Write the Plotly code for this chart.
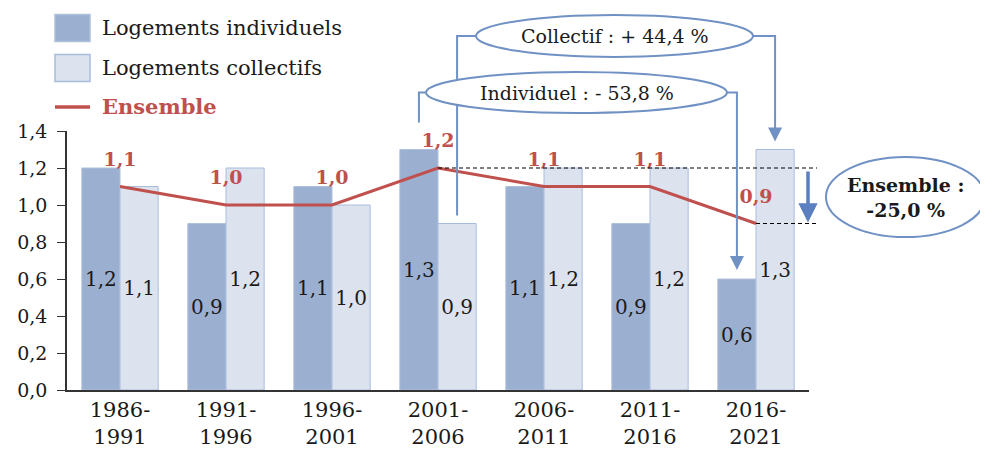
import plotly.graph_objects as go

# Données
periodes = ["1986-<br>1991", "1991-<br>1996", "1996-<br>2001", "2001-<br>2006",
            "2006-<br>2011", "2011-<br>2016", "2016-<br>2021"]
individuels = [1.2, 0.9, 1.1, 1.3, 1.1, 0.9, 0.6]
collectifs = [1.1, 1.2, 1.0, 0.9, 1.2, 1.2, 1.3]
ensemble = [1.1, 1.0, 1.0, 1.2, 1.1, 1.1, 0.9]

noms = ["Logements individuels", "Logements collectifs", "Ensemble"]
txt_collectif = "Collectif : + 44,4 %"
txt_individuel = "Individuel : - 53,8 %"
txt_ensemble = "<b>Ensemble :<br>-25,0 %</b>"

FONT = "Palatino Linotype, Book Antiqua, Palatino, DejaVu Serif, serif"
C_IND = "#9BAFD0"
C_COL = "#DCE3EE"
C_RED = "#C0504D"
C_BLUE = "#7091C4"
C_ARROW = "#5B7FBF"
C_TXT = "#1a1a1a"

# la page ajoute une marge de 8 px : on la compense
OFF = 8
W, H = 988, 450
PL, PT, PW, PH = 67, 131, 742, 259   # zone de tracé voulue à l'écran
ML, MT = PL - OFF, PT - OFF
MR, MB = W - ML - PW, H - MT - PH
YMAX = 1.4
N = len(periodes)
BAR_OFF = 0.18  # centre de chaque barre dans le groupe (bargap 0.28)


def xp(i, off=0.0):
    """position de catégorie -> coordonnée papier"""
    return (i + 0.5 + off) / N


def yp(v):
    return v / YMAX


def sx(p):
    """abscisse écran (px) -> papier"""
    return (p - PL) / PW


def sy(p):
    """ordonnée écran (px) -> papier"""
    return (PT + PH - p) / PH


def dy(p):
    return p / PH


fig = go.Figure()

fig.add_trace(go.Bar(
    x=periodes, y=individuels, name=noms[0],
    marker=dict(color=C_IND, line=dict(color="#AFC0DA", width=1)),
    texttemplate="%{y:.1f}", textposition="inside", insidetextanchor="middle",
    textangle=0, constraintext="none",
    textfont=dict(size=20, color=C_TXT, family=FONT),
))
fig.add_trace(go.Bar(
    x=periodes, y=collectifs, name=noms[1],
    marker=dict(color=C_COL, line=dict(color="#A9BCDC", width=1)),
    texttemplate="%{y:.1f}", textposition="inside", insidetextanchor="middle",
    textangle=0, constraintext="none",
    textfont=dict(size=20, color=C_TXT, family=FONT),
))
fig.add_trace(go.Scatter(
    x=periodes, y=ensemble, name=noms[2],
    mode="lines+markers+text",
    line=dict(color=C_RED, width=3),
    marker=dict(size=24, color="rgba(0,0,0,0)"),
    texttemplate="<b>%{y:.1f}</b>", textposition="top center",
    textfont=dict(size=19, color=C_RED, family=FONT),
    cliponaxis=False,
))

shapes = []
annotations = []
line_blue = dict(color=C_BLUE, width=2)

# Légende dessinée (carrés larges comme l'original)
leg_x0, leg_x1 = sx(55), sx(90)
leg_tx = sx(100)
leg_y = [sy(28), sy(68), sy(107)]
for k, (col, edge) in enumerate(((C_IND, "#AFC0DA"), (C_COL, "#A9BCDC"))):
    shapes.append(dict(type="rect", xref="paper", yref="paper",
                       x0=leg_x0, x1=leg_x1,
                       y0=leg_y[k] - dy(13.5), y1=leg_y[k] + dy(13.5),
                       fillcolor=col, line=dict(color=edge, width=1.5)))
shapes.append(dict(type="line", xref="paper", yref="paper", x0=leg_x0, x1=leg_x1,
                   y0=leg_y[2], y1=leg_y[2], line=dict(color=C_RED, width=3.5)))
for k, nom in enumerate(noms):
    t = f"<b>{nom}</b>" if k == 2 else nom
    annotations.append(dict(xref="paper", yref="paper", x=leg_tx, y=leg_y[k],
                            xanchor="left", yanchor="middle", showarrow=False, text=t,
                            font=dict(size=21, family=FONT,
                                      color=C_RED if k == 2 else C_TXT)))

# Accolade "Collectif"
col_ell = dict(x0=sx(476), x1=sx(753), y0=sy(57), y1=sy(15))
col_y = (col_ell["y0"] + col_ell["y1"]) / 2
xl = xp(3, BAR_OFF)
xr = xp(6, BAR_OFF)
shapes.append(dict(type="path", xref="paper", yref="paper",
                   path=f"M {xl},{yp(collectifs[3]) + dy(8)} L {xl},{col_y} L {col_ell['x0']},{col_y}",
                   line=line_blue))
shapes.append(dict(type="path", xref="paper", yref="paper",
                   path=f"M {col_ell['x1']},{col_y} L {xr},{col_y} L {xr},{yp(collectifs[6]) + dy(30)}",
                   line=line_blue))
annotations.append(dict(xref="paper", yref="paper", x=xr, y=yp(collectifs[6]) + dy(8),
                        ax=0, ay=-24, showarrow=True, arrowhead=2, arrowsize=1.4,
                        arrowwidth=2, arrowcolor=C_BLUE, text="", standoff=0))

# Accolade "Individuel"
ind_ell = dict(x0=sx(426), x1=sx(727), y0=sy(113), y1=sy(72))
ind_y = (ind_ell["y0"] + ind_ell["y1"]) / 2
xl2 = xp(3, -BAR_OFF)
xr2 = xp(6, -BAR_OFF)
shapes.append(dict(type="path", xref="paper", yref="paper",
                   path=f"M {xl2},{yp(individuels[3]) + dy(27)} L {xl2},{ind_y} L {ind_ell['x0']},{ind_y}",
                   line=line_blue))
shapes.append(dict(type="path", xref="paper", yref="paper",
                   path=f"M {ind_ell['x1']},{ind_y} L {xr2},{ind_y} L {xr2},{yp(individuels[6]) + dy(30)}",
                   line=line_blue))
annotations.append(dict(xref="paper", yref="paper", x=xr2, y=yp(individuels[6]) + dy(9),
                        ax=0, ay=-24, showarrow=True, arrowhead=2, arrowsize=1.4,
                        arrowwidth=2, arrowcolor=C_BLUE, text="", standoff=0))

# ellipses (blanches, au-dessus des traits)
for ell, txt in ((col_ell, txt_collectif), (ind_ell, txt_individuel)):
    shapes.append(dict(type="circle", xref="paper", yref="paper",
                       x0=ell["x0"], x1=ell["x1"], y0=ell["y0"], y1=ell["y1"],
                       line=line_blue, fillcolor="white"))
    annotations.append(dict(xref="paper", yref="paper",
                            x=(ell["x0"] + ell["x1"]) / 2, y=(ell["y0"] + ell["y1"]) / 2,
                            xanchor="center", yanchor="middle",
                            text=txt, showarrow=False,
                            font=dict(size=19, color=C_TXT, family=FONT)))

# Pointillés et flèche "Ensemble"
x_end = sx(817)
dash_line = dict(color="black", width=1.2, dash="4px,3px")
shapes.append(dict(type="line", xref="paper", yref="paper", x0=xp(3), x1=x_end,
                   y0=yp(ensemble[3]), y1=yp(ensemble[3]), line=dash_line))
shapes.append(dict(type="line", xref="paper", yref="paper", x0=xp(6), x1=x_end,
                   y0=yp(ensemble[6]), y1=yp(ensemble[6]), line=dash_line))
annotations.append(dict(xref="paper", yref="paper", x=sx(808), y=yp(ensemble[6]),
                        ax=0, ay=-(ensemble[3] - ensemble[6]) / YMAX * PH + 2,
                        showarrow=True, arrowhead=2, arrowsize=1.1, arrowwidth=3.5,
                        arrowcolor=C_ARROW, text="", standoff=1))

ens_ell = dict(x0=sx(826), x1=sx(985), y0=sy(237), y1=sy(157))
shapes.append(dict(type="circle", xref="paper", yref="paper",
                   x0=ens_ell["x0"], x1=ens_ell["x1"], y0=ens_ell["y0"], y1=ens_ell["y1"],
                   line=line_blue, fillcolor="white"))
annotations.append(dict(xref="paper", yref="paper",
                        x=(ens_ell["x0"] + ens_ell["x1"]) / 2, y=(ens_ell["y0"] + ens_ell["y1"]) / 2,
                        xanchor="center", yanchor="middle",
                        text=txt_ensemble, showarrow=False,
                        font=dict(size=19, color=C_TXT, family=FONT)))

fig.update_layout(
    width=W, height=H,
    margin=dict(l=ML, r=MR, t=MT, b=MB, autoexpand=False),
    plot_bgcolor="white", paper_bgcolor="white",
    separators=", ",
    barmode="group", bargap=0.28, bargroupgap=0,
    font=dict(family=FONT, size=19, color=C_TXT),
    showlegend=False,
    shapes=shapes, annotations=annotations,
)
fig.update_xaxes(showline=True, linecolor="#333", linewidth=1.5, ticks="",
                 tickfont=dict(size=21), showgrid=False)
fig.update_yaxes(range=[0, YMAX], dtick=0.2, tickformat=".1f", showline=True,
                 linecolor="#333", linewidth=1.5, ticks="outside", ticklen=8,
                 tickcolor="#333", showgrid=False, zeroline=False,
                 tickfont=dict(size=19), ticklabelstandoff=6)

fig.write_html("out.html")
